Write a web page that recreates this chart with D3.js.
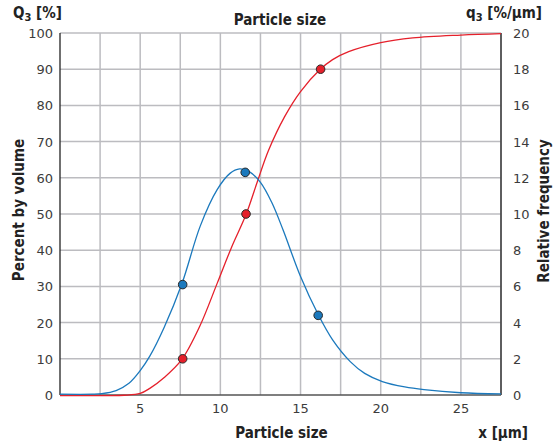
<!DOCTYPE html>
<html>
<head>
<meta charset="utf-8">
<script src="https://cdn.jsdelivr.net/npm/d3@7"></script>
<style>
  body { margin: 0; background: #fff; }
  text { font-family: "DejaVu Sans", sans-serif; }
  .title { font-family: "DejaVu Sans Condensed", "DejaVu Sans", sans-serif; font-stretch: condensed; }
</style>
</head>
<body>
<svg id="chart" width="553" height="442"></svg>
<script>
// cumulative distribution Q3 [%] (left axis)
var cumX = [0, 3, 4, 5, 5.6, 6.5, 7.6, 8.7, 9.8, 10.7, 11.6, 12.3, 13, 14, 15, 16.2, 17, 18, 20, 22, 25, 27.5];
var cumY = [0, 0, 0.1, 0.6, 2, 5, 10, 19, 31, 41, 50, 59, 67.7, 77, 84, 90, 92.8, 95, 97.5, 98.8, 99.6, 100];

// density distribution q3 [%/µm] (right axis)
var denX = [0, 2, 2.6, 3.5, 4.3, 5, 5.6, 6.5, 7.6, 8.75, 9.8, 10.6, 11.2, 11.8, 12.5, 13.2, 13.9, 15, 16.1, 17, 18.1, 19, 20.1, 21.5, 22.7, 25, 27.5];
var denY = [0, 0, 0.03, 0.2, 0.6, 1.3, 2.1, 3.7, 6.1, 9.3, 11.3, 12.2, 12.45, 12.3, 11.7, 10.6, 9.1, 6.5, 4.4, 3.0, 1.8, 1.15, 0.7, 0.4, 0.25, 0.08, 0.02];

// marked points
var cumDotX = [7.65, 11.6, 16.25];
var cumDotY = [10, 50, 90];
var denDotX = [7.65, 11.55, 16.1];
var denDotY = [6.1, 12.3, 4.4];

var xTicks = [5, 10, 15, 20, 25];
var xGrid = d3.range(2.5, 27.6, 2.5);
var leftTicks = d3.range(0, 101, 10);
var rightTicks = d3.range(0, 21, 2);

var red = "#e5202b", blue = "#1b79bd", grid = "#bcbcc0";

var svg = d3.select("#chart");
var m = {left: 60, right: 501, top: 33, bottom: 395};

var x = d3.scaleLinear().domain([0, 27.5]).range([m.left, m.right]);
var yL = d3.scaleLinear().domain([0, 100]).range([m.bottom, m.top]);
var yR = d3.scaleLinear().domain([0, 20]).range([m.bottom, m.top]);

// grid
svg.append("g").selectAll("line").data(xGrid).join("line")
  .attr("x1", d => x(d)).attr("x2", d => x(d))
  .attr("y1", m.top).attr("y2", m.bottom)
  .attr("stroke", grid).attr("stroke-width", 1.5);
svg.append("g").selectAll("line").data(leftTicks.slice(1)).join("line")
  .attr("x1", m.left).attr("x2", m.right)
  .attr("y1", d => yL(d)).attr("y2", d => yL(d))
  .attr("stroke", grid).attr("stroke-width", 1.5);

// axes lines
svg.append("line").attr("x1", m.left).attr("x2", m.left).attr("y1", m.top).attr("y2", m.bottom)
  .attr("stroke", "#222").attr("stroke-width", 1.3);
svg.append("line").attr("x1", m.right).attr("x2", m.right).attr("y1", m.top).attr("y2", m.bottom)
  .attr("stroke", "#222").attr("stroke-width", 1.3);
svg.append("line").attr("x1", m.left).attr("x2", m.right).attr("y1", m.bottom).attr("y2", m.bottom)
  .attr("stroke", "#555").attr("stroke-width", 1.5);

// tick labels
var tickStyle = function(sel) {
  sel.attr("font-size", 13).attr("fill", "#3c3c3c");
};
svg.append("g").selectAll("text").data(leftTicks).join("text")
  .attr("x", m.left - 7).attr("y", d => yL(d) + 5)
  .attr("text-anchor", "end").text(d => d).call(tickStyle);
svg.append("g").selectAll("text").data(rightTicks).join("text")
  .attr("x", m.right + 12).attr("y", d => yR(d) + 5)
  .attr("text-anchor", "start").text(d => d).call(tickStyle);
svg.append("g").selectAll("text").data(xTicks).join("text")
  .attr("x", d => x(d)).attr("y", m.bottom + 18)
  .attr("text-anchor", "middle").text(d => d).call(tickStyle);

// curves
var cum = cumX.map((d, i) => [d, cumY[i]]);
var den = denX.map((d, i) => [d, denY[i]]);

svg.append("path").datum(cum)
  .attr("d", d3.line().x(d => x(d[0])).y(d => yL(d[1]) + 0.6).curve(d3.curveCatmullRom.alpha(0.5)))
  .attr("fill", "none").attr("stroke", red).attr("stroke-width", 1.3);
svg.append("path").datum(den)
  .attr("d", d3.line().x(d => x(d[0])).y(d => yR(d[1]) - 0.8).curve(d3.curveCatmullRom.alpha(0.5)))
  .attr("fill", "none").attr("stroke", blue).attr("stroke-width", 1.3);

// dots
svg.append("g").selectAll("circle").data(cumDotX).join("circle")
  .attr("cx", d => x(d)).attr("cy", (d, i) => yL(cumDotY[i])).attr("r", 4.3)
  .attr("fill", red).attr("stroke", "#2a2a2a").attr("stroke-width", 1);
svg.append("g").selectAll("circle").data(denDotX).join("circle")
  .attr("cx", d => x(d)).attr("cy", (d, i) => yR(denDotY[i])).attr("r", 4.3)
  .attr("fill", blue).attr("stroke", "#2a2a2a").attr("stroke-width", 1);

// titles
var bold = function(sel) {
  sel.attr("class", "title").attr("font-size", 15).attr("font-weight", "bold").attr("fill", "#222");
};
var q = svg.append("text").attr("x", 13).attr("y", 18).call(bold);
q.append("tspan").text("Q");
q.append("tspan").attr("font-size", 11).attr("dy", 3).text("3");
q.append("tspan").attr("dy", -3).text(" [%]");

var qr = svg.append("text").attr("y", 18).call(bold);
qr.append("tspan").text("q");
qr.append("tspan").attr("font-size", 11).attr("dy", 3).text("3");
qr.append("tspan").attr("dy", -3).text(" [%/µm]");
qr.attr("x", 542 - qr.node().getComputedTextLength());

svg.append("text").attr("x", 280).attr("y", 25).attr("text-anchor", "middle")
  .text("Particle size").call(bold);
svg.append("text").attr("x", 281.5).attr("y", 437.5).attr("text-anchor", "middle")
  .text("Particle size").call(bold);
svg.append("text").attr("x", 528).attr("y", 437.5).attr("text-anchor", "end")
  .text("x [µm]").call(bold);

svg.append("text").attr("transform", "translate(23.5,210) rotate(-90)")
  .attr("text-anchor", "middle").text("Percent by volume").call(bold);
svg.append("text").attr("transform", "translate(548.5,211) rotate(-90)")
  .attr("text-anchor", "middle").text("Relative frequency").call(bold);
</script>
</body>
</html>
